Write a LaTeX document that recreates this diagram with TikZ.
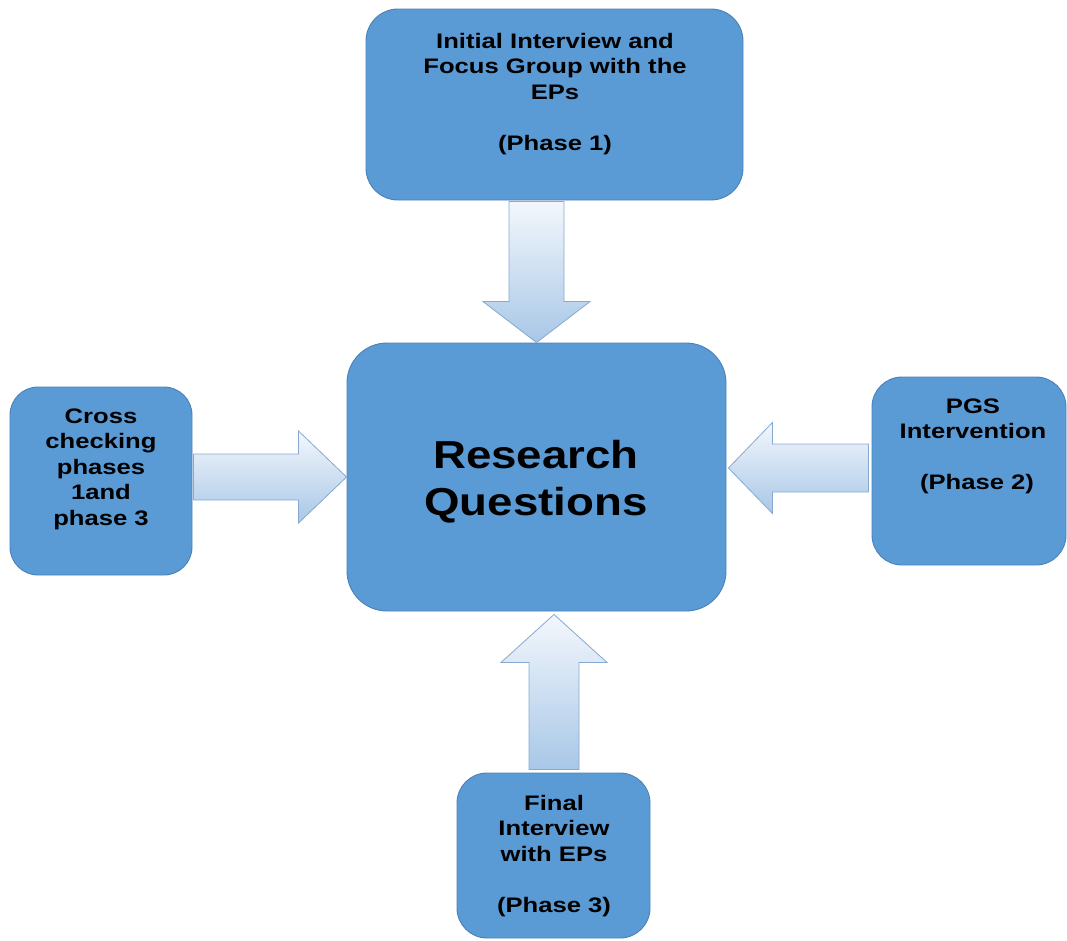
\documentclass[tikz,border=0pt]{standalone}
\usepackage{fontspec}
\setmainfont{Liberation Sans}
\newfontfamily\boxfont{Liberation Sans}[FakeStretch=1.22]
\newfontfamily\titlefont{Liberation Sans}[FakeStretch=1.17]
\usetikzlibrary{calc}
\definecolor{boxblue}{HTML}{5B9BD5}
\definecolor{boxedge}{HTML}{4A80B8}
\definecolor{arrowtop}{HTML}{F3F7FC}
\definecolor{arrowbot}{HTML}{A8C7E7}
\definecolor{arrowedge}{HTML}{86A9CF}
\tikzset{
  phasebox/.style={draw=boxedge, line width=0.9pt, fill=boxblue, rounded corners=32pt,
    inner sep=0pt, minimum width=#1},
  boxtext/.style={anchor=base, inner sep=0pt,
    font=\boxfont\bfseries\fontsize{21}{25.5}\selectfont},
  bigtext/.style={anchor=base, inner sep=0pt,
    font=\titlefont\bfseries\fontsize{39}{47}\selectfont},
  blockarrow/.style={draw=arrowedge, line width=0.8pt, top color=arrowtop,
    bottom color=arrowbot, line join=miter}
}
\newcommand{\ctext}[2]{\parbox[t]{#1}{\centering #2}}
\begin{document}
\begin{tikzpicture}[x=1pt, y=-1pt]
\useasboundingbox (0,0) rectangle (1067,940);

% the five boxes
\node[phasebox=377pt, minimum height=191pt] (p1) at (554.5,104.5) {};
\node[phasebox=379pt, minimum height=268pt, rounded corners=40pt] (rq) at (536.5,477) {};
\node[phasebox=182pt, minimum height=188pt, rounded corners=28pt] (cc) at (101,481) {};
\node[phasebox=194pt, minimum height=188pt, rounded corners=30pt] (p2) at (969,471) {};
\node[phasebox=193pt, minimum height=165pt, rounded corners=30pt] (p3) at (553.5,855.5) {};

% box texts
\node[boxtext] (t1) at (555,48) {\ctext{360pt}{Initial Interview and\\Focus Group with the\\EPs\\~\\(Phase 1)}};
\node[bigtext] (trq) at (536,468) {\ctext{370pt}{Research\\Questions}};
\node[boxtext] (tcc) at (101,423) {\ctext{180pt}{Cross\\checking\\phases\\1and\\phase 3}};
\node[boxtext] (t2) at (973,413) {\ctext{190pt}{PGS\\Intervention\\~\\\hspace*{8pt}(Phase 2)}};
\node[boxtext] (t3) at (554,810) {\ctext{190pt}{Final\\Interview\\with EPs\\~\\(Phase 3)}};

% block arrows into the research questions
% from phase 1 (downwards)
\path[blockarrow] (rq.north)
  -- ++(53.5,-41) -- ++(-26,0)
  -- ($(rq.north |- p1.south)+(27.5,1)$) -- ++(-55,0)
  -- ($(rq.north)+(-27.5,-41)$) -- ++(-26,0) -- cycle;
% from cross checking (rightwards)
\path[blockarrow] (rq.west)
  -- ++(-48,-46) -- ++(0,23)
  -- ($(rq.west -| cc.east)+(1,-23)$) -- ++(0,46)
  -- ($(rq.west)+(-48,23)$) -- ++(0,23) -- cycle;
% from phase 2 (leftwards)
\path[blockarrow] ($(rq.east)+(2,-9)$) coordinate (tipr)
  -- ++(44,-45.5) -- ++(0,21.5)
  -- ($(tipr -| p2.west)+(-3,-24)$) -- ++(0,48)
  -- ($(tipr)+(44,24)$) -- ++(0,21.5) -- cycle;
% from phase 3 (upwards)
\path[blockarrow] ($(p3.north |- rq.south)+(0.5,3)$) coordinate (tipb)
  -- ++(53,48) -- ++(-28,0)
  -- ($(tipb -| p3.north)+(25.5,155)$) -- ++(-50,0)
  -- ($(tipb)+(-25,48)$) -- ++(-28,0) -- cycle;
\end{tikzpicture}
\end{document}
